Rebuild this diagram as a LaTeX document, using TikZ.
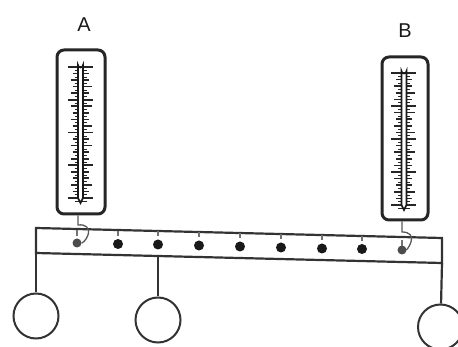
\documentclass[tikz,border=0pt]{standalone}
\usepackage{fontspec}
\setmainfont{Liberation Sans}
\tikzset{
  beam/.style={draw=black!80,line width=2.2pt},
  casing/.style={draw=black!85,line width=3pt,rounded corners=7pt,fill=white},
  tube/.style={draw=black!90,line width=1.6pt,fill=white},
  scalemark/.style={draw=black!85,line width=1.7pt},
  probe/.style={circle,fill=black!90,minimum size=10pt,inner sep=0pt},
  endprobe/.style={circle,fill=black!70,minimum size=9pt,inner sep=0pt},
  bulb/.style={circle,draw=black!80,line width=2pt,fill=white,minimum size=45pt,inner sep=0pt},
  tick/.style={draw=black!55,line width=1.5pt},
  wire/.style={draw=black!65,line width=1.3pt},
  letter/.style={font=\fontsize{20}{22}\selectfont,text=black!90,draw=none}
}
\newcommand{\thermo}[3]{% cx, top y, bottom y
  \pgfmathsetmacro{\tstep}{(#3-#2-10)/20}
  \foreach \i in {0,...,20}{
    \pgfmathsetmacro{\ty}{#2+5+\i*\tstep}
    \pgfmathtruncatemacro{\ismajor}{mod(\i,5)==0 ? 1 : 0}
    \pgfmathsetmacro{\tl}{\ismajor==1 ? 13 : (mod(\i,2)==0 ? 10 : 8)}
    \pgfmathsetmacro{\tr}{\ismajor==1 ? 12 : (mod(\i,3)==0 ? 11 : 8)}
    \draw[scalemark] (#1-\tl,\ty) -- (#1+\tr,\ty);
    \draw[scalemark,line width=0.5pt] (#1-6,\ty+\tstep/2) -- (#1+6,\ty+\tstep/2);
  }
  \draw[tube] (#1-2.5,#3-5) -- (#1-2.5,#2+3) arc[start angle=180,end angle=0,radius=2.5] -- (#1+2.5,#3-5) -- (#1,#3) -- cycle;
}
\begin{document}
\begin{tikzpicture}[x=1pt,y=-1pt]
\useasboundingbox[fill=white] (0,0) rectangle (458,347);
\clip (0,0) rectangle (458,347);
% thermometers
\node[casing,minimum width=48pt,minimum height=164pt,inner sep=0pt] (caseA) at (81,132) {};
\node[casing,minimum width=46pt,minimum height=163pt,inner sep=0pt] (caseB) at (405,138.5) {};
\thermo{80.5}{62}{203}
\thermo{404}{68}{210}
\node[letter] (labelA) at (84,25) {A};
\node[letter] (labelB) at (405,31) {B};
% beam
\coordinate (tl) at (36,228);
\coordinate (tr) at (442,238);
\coordinate (bl) at (36,253);
\coordinate (br) at (442,263);
\draw[beam] (bl) -- (tl) -- (tr) -- (br) -- cycle;
% probes
\foreach \n/\x/\y in {2/118/244,3/158/244.5,4/199/245.5,5/240/246.5,6/281/247.5,7/322/248.5,8/362/249}{
  \node[probe] (p\n) at (\x,\y) {};
  \draw[tick] (\x,\y-13) -- (\x,\y-8);
}
\node[endprobe] (p1) at (77,243) {};
\node[endprobe] (p9) at (402,250) {};
\draw[tick] (77,230) -- (77,236);
\draw[tick] (402,240) -- (402,246);
% wires
\draw[wire] (caseA.south -| 78,0) -- (78,225) .. controls (86,224) and (90,228) .. (88,235) .. controls (86,241) and (82,243) .. (p1);
\draw[wire] (caseB.south -| 402,0) -- (402,232) .. controls (410,232) and (413,236) .. (411,242) .. controls (409,248) and (406,250) .. (p9);
% bulbs
\node[bulb] (c1) at (36,316) {};
\node[bulb] (c2) at (158,320) {};
\node[bulb] (c3) at (440.5,327) {};
\draw[beam] (36,253) -- (c1);
\draw[beam] (158,256) -- (c2);
\draw[beam] (442,263) -- (c3);
\end{tikzpicture}
\end{document}
